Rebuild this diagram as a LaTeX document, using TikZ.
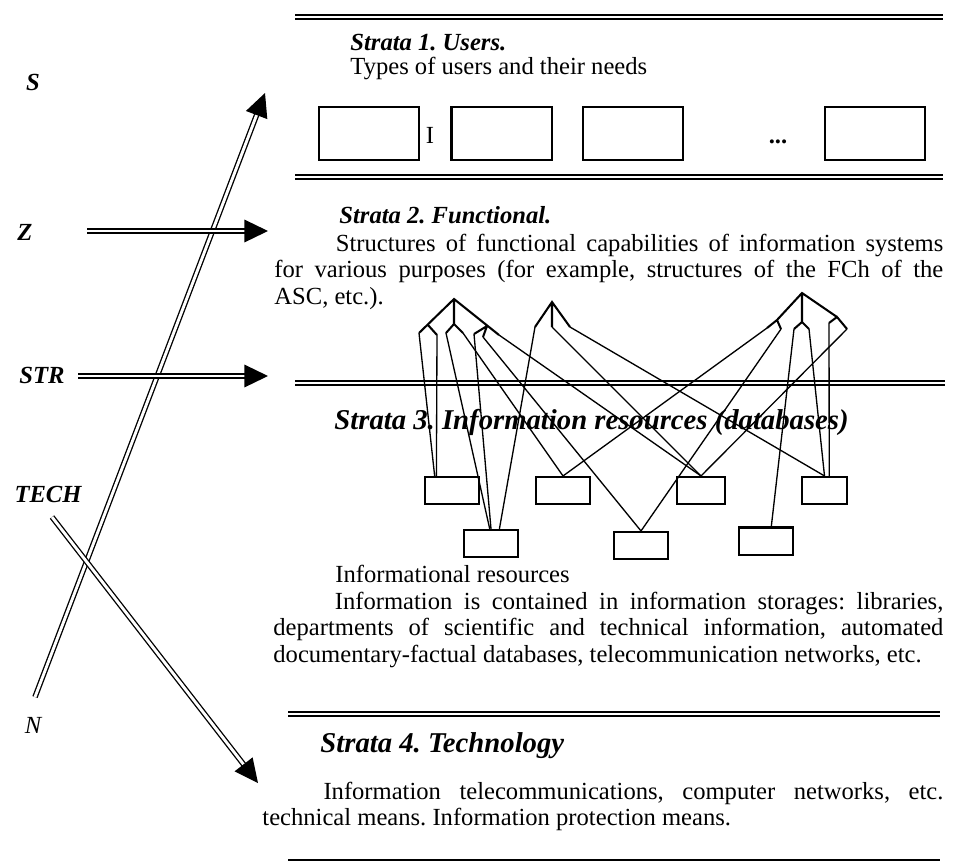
\documentclass[tikz,border=0pt]{standalone}
\usepackage{fontspec}
\setmainfont{Liberation Serif}
\usepackage{xcolor}
\usepackage{tikz}
\usetikzlibrary{arrows.meta}
\frenchspacing

\newcommand\txtsize{\fontsize{12}{13}\selectfont}
\newcommand\headsize{\fontsize{14}{16}\selectfont}

\tikzset{
    divider/.style={double, double distance=0.7pt, line width=0.9pt},
    shaft/.style={double, double distance=1.4pt, line width=0.65pt, -{Triangle[length=11.5pt,width=11pt]}},
    userbox/.style={draw, line width=1pt, minimum width=48.8pt, minimum height=25.9pt, inner sep=0pt},
    dbbox/.style={draw, line width=1pt, minimum width=26.3pt, minimum height=13.2pt, inner sep=0pt},
    stratum/.style={anchor=base west, inner sep=0pt, font=\txtsize\bfseries\itshape},
    bigstratum/.style={anchor=base west, inner sep=0pt, font=\headsize\bfseries\itshape},
    plain/.style={anchor=base west, inner sep=0pt},
    sidelabel/.style={anchor=base, inner sep=0pt, font=\txtsize\bfseries\itshape},
    para/.style={anchor=north west, inner sep=0pt, align=justify},
    branch/.style={line width=1pt},
    link/.style={line width=0.65pt}
}

\begin{document}
\begin{tikzpicture}[x=0.4878pt, y=-0.4878pt, font=\txtsize]
                \useasboundingbox (0,0) rectangle (972,864);

                % Strata 1: users
                \draw[divider] (295,17) -- (943,17);
                \node[stratum] (s1head) at (350,50) {Strata 1. Users.};
                \node[plain] (s1text) at (350,74) {Types of users and their needs};
                \node[userbox] (user1) at (369,133.5) {};
                \node[userbox] (user2) at (501.5,133.5) {};
                \node[userbox] (user3) at (633,133.5) {};
                \node[userbox] (user4) at (875,133.5) {};
                \node[anchor=base, inner sep=0pt] (userI) at (430,143) {I};
                \node[anchor=base, inner sep=0pt] (userDots) at (778,143) {\textbf{...}};
                \draw[divider] (295,177) -- (943,177);

                % Strata 2: functional
                \node[stratum] (s2head) at (339,223) {Strata 2. Functional.};
                \node[para, text width=326.3pt] (s2text) at (274,232)
                    {\strut\hspace*{30pt}Structures of functional capabilities of information systems\linebreak
                     for various purposes (for example, structures of the FCh of the\linebreak
                     ASC, etc.).};
                \draw[divider] (295,383) -- (945,383);

                % Strata 3: information resources
                \node[bigstratum] (s3head) at (334,429) {Strata 3. Information resources (databases)};
                \node[plain] (s3caption) at (335,582) {Informational resources};
                \node[para, text width=326.8pt] (s3text) at (273,590)
                    {\strut\hspace*{30pt}Information is contained in information storages: libraries,\linebreak
                     departments of scientific and technical information, automated\linebreak
                     documentary-factual databases, telecommunication networks, etc.};

                % Strata 4: technology
                \draw[divider] (288,714) -- (940,714);
                \node[bigstratum] (s4head) at (320,752) {Strata 4. Technology};
                \node[para, text width=332.2pt] (s4text) at (262,780)
                    {\strut\hspace*{29.8pt}Information telecommunications, computer networks, etc.\linebreak
                     technical means. Information protection means.};
                \draw[line width=1.3pt] (288,860) -- (940,860);

                % databases
                \node[dbbox] (dbA) at (452,490.5) {};
                \node[dbbox] (dbB) at (563,490.5) {};
                \node[dbbox, minimum width=23.4pt] (dbC) at (701,490.5) {};
                \node[dbbox, minimum width=22pt] (dbD) at (824.5,490.5) {};
                \node[dbbox] (dbE) at (491,543.5) {};
                \node[dbbox] (dbF) at (641,545.5) {};
                \node[dbbox] (dbG) at (766,541) {};

                % function trees
                \coordinate (apA) at (454,299);
                \coordinate (aL) at (419,333);
                \coordinate (aLf) at (428,325);
                \coordinate (aL2) at (437,335);
                \coordinate (aM) at (454,324);
                \coordinate (aM1) at (446,333);
                \coordinate (aM2) at (463,333);
                \coordinate (aR) at (499,335);
                \coordinate (aRf) at (487,326);
                \coordinate (aR2) at (474,334);
                \coordinate (aR3) at (483,337);

                \coordinate (apB) at (552,302);
                \coordinate (bL) at (535,327);
                \coordinate (bM) at (552,327);
                \coordinate (bR) at (570,327);

                \coordinate (apC) at (802,293);
                \coordinate (cL) at (777,320);
                \coordinate (cL1) at (767,328);
                \coordinate (cL2) at (781,329);
                \coordinate (cM) at (802,322);
                \coordinate (cM1) at (794,329);
                \coordinate (cM2) at (809,329);
                \coordinate (cR) at (837,317);
                \coordinate (cR1) at (829,323);
                \coordinate (cR2) at (847,329);

                \draw[branch] (aL) -- (apA) -- (aR) (apA) -- (aM) (aM1) -- (aM) -- (aM2)
                    (aLf) -- (aL2) (aRf) -- (aR2) (aRf) -- (aR3);
                \draw[branch] (bL) -- (apB) -- (bR) (apB) -- (bM);
                \draw[branch] (cL) -- (apC) -- (cR) (apC) -- (cM) (cL1) -- (cL) -- (cL2)
                    (cM1) -- (cM) -- (cM2) (cR1) -- (cR) -- (cR2);

                % links from functions to databases
                \draw[link] (aL) -- (dbA.140);
                \draw[link] (aL2) -- (dbA.137);
                \draw[link] (aM1) -- (dbE.95);
                \draw[link] (aM2) -- (dbB.north);
                \draw[link] (aR2) -- (dbE.north);
                \draw[link] (aR3) -- (dbF.north);
                \draw[link] (aR) -- (dbC.north);
                \draw[link] (bL) -- (dbE.60);
                \draw[link] (bM) -- (dbC.north);
                \draw[link] (bR) -- (dbD.north);
                \draw[link] (cL1) -- (dbB.north);
                \draw[link] (cL2) -- (dbF.north);
                \draw[link] (cM1) -- (dbG.70);
                \draw[link] (cM2) -- (dbD.north);
                \draw[link] (cR1) -- (dbD.72);
                \draw[link] (cR2) -- (dbC.north);

                % side axes
                \node[sidelabel] (S) at (33,90) {S};
                \node[sidelabel] (Z) at (25,240) {Z};
                \node[sidelabel] (STR) at (42,383) {STR};
                \node[sidelabel] (TECH) at (48,502) {TECH};
                \node[anchor=base, inner sep=0pt, font=\txtsize\itshape] (N) at (33,733) {N};

                \coordinate (nTail) at (35,697);
                \coordinate (sHead) at (265,93);
                \coordinate (zTail) at (87,231);
                \coordinate (zHead) at (268,231);
                \coordinate (strTail) at (78,376);
                \coordinate (strHead) at (268,376);
                \coordinate (techTail) at (52,517);
                \coordinate (techHead) at (258,783);

                \draw[shaft] (nTail) -- (sHead);
                \draw[shaft] (zTail) -- (zHead);
                \draw[shaft] (strTail) -- (strHead);
                \draw[shaft] (techTail) -- (techHead);
            \end{tikzpicture}
\end{document}
